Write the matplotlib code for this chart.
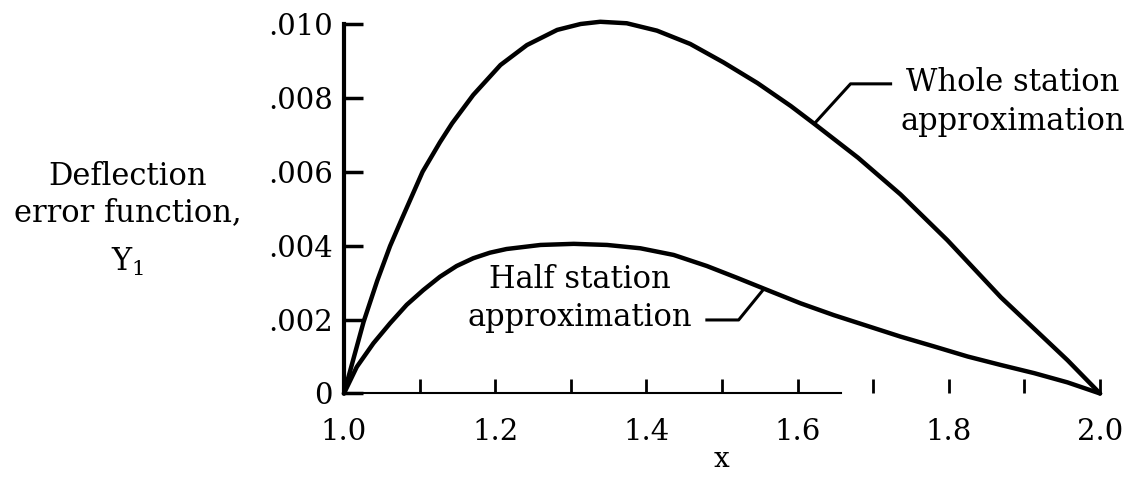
import matplotlib.pyplot as plt

plt.rcParams['font.family'] = ['DejaVu Serif']
plt.rcParams['mathtext.fontset'] = 'dejavuserif'

# whole station approximation (x, Y1 in units of 1e-3)
whole_x = [1.000, 1.026, 1.044, 1.061, 1.076, 1.104, 1.127, 1.143, 1.171,
           1.207, 1.242, 1.282, 1.313, 1.339, 1.374, 1.414, 1.458, 1.502,
           1.547, 1.591, 1.622, 1.680, 1.736, 1.798, 1.869, 1.957, 2.000]
whole_y = [0, 1.94, 3.05, 3.99, 4.70, 6.00, 6.80, 7.31, 8.08,
           8.89, 9.43, 9.84, 10.00, 10.06, 10.02, 9.82, 9.46, 8.96,
           8.40, 7.78, 7.30, 6.38, 5.39, 4.15, 2.60, 0.90, 0]

# half station approximation
half_x = [1.000, 1.017, 1.039, 1.061, 1.083, 1.105, 1.127, 1.149, 1.171,
          1.193, 1.215, 1.260, 1.304, 1.348, 1.392, 1.436, 1.480, 1.520,
          1.560, 1.604, 1.648, 1.692, 1.736, 1.781, 1.825, 1.869, 1.913,
          1.957, 2.000]
half_y = [0, 0.72, 1.36, 1.90, 2.40, 2.80, 3.16, 3.45, 3.66,
          3.81, 3.91, 4.02, 4.05, 4.02, 3.93, 3.75, 3.45, 3.13,
          2.80, 2.44, 2.12, 1.83, 1.54, 1.27, 1.00, 0.77, 0.55,
          0.30, 0]

x_ticks = [1.0, 1.1, 1.2, 1.3, 1.4, 1.5, 1.6, 1.7, 1.8, 1.9, 2.0]
x_labels = ['1.0', '', '1.2', '', '1.4', '', '1.6', '', '1.8', '', '2.0']
y_ticks = [0, 0.002, 0.004, 0.006, 0.008, 0.010]
y_labels = ['0', '.002', '.004', '.006', '.008', '.010']

fig = plt.figure(figsize=(11.37, 4.78), dpi=100)
ax = fig.add_axes([0.3025, 0.1768, 0.665, 0.773])

ax.plot(whole_x, [v * 1e-3 for v in whole_y], color='black', lw=3.2,
        solid_capstyle='round', solid_joinstyle='round', clip_on=False)
ax.plot(half_x, [v * 1e-3 for v in half_y], color='black', lw=3.2,
        solid_capstyle='round', solid_joinstyle='round', clip_on=False)

ax.set_xlim(1.0, 2.0)
ax.set_ylim(0, 0.010)
ax.spines['top'].set_visible(False)
ax.spines['right'].set_visible(False)
ax.spines['left'].set_linewidth(3)
ax.spines['bottom'].set_linewidth(1.5)
ax.spines['bottom'].set_bounds(1.0, 1.658)

ax.set_xticks(x_ticks)
ax.set_xticklabels(x_labels)
ax.set_yticks(y_ticks)
ax.set_yticklabels(y_labels)
ax.tick_params(axis='x', direction='in', length=10, width=2, pad=18,
               labelsize=21)
ax.tick_params(axis='y', direction='in', length=14, width=2.5, pad=8,
               labelsize=21)
ax.set_xlabel('x', fontsize=20, labelpad=0)

# leader lines and curve labels
ax.plot([1.622, 1.670, 1.723], [0.00730, 0.00838, 0.00838], color='black',
        lw=2.2)
ax.text(1.885, 0.00789, 'Whole station\napproximation', ha='center',
        va='center', fontsize=22, linespacing=1.3)
ax.plot([1.555, 1.522, 1.480], [0.00282, 0.00199, 0.00199], color='black',
        lw=2.2)
ax.text(1.3126, 0.00256, 'Half station\napproximation', ha='center',
        va='center', fontsize=22, linespacing=1.3)

fig.text(0.1126, 0.593, 'Deflection\nerror function,', ha='center',
         va='center', fontsize=22, linespacing=1.2)
fig.text(0.1126, 0.452, 'Y$_1$', ha='center', va='center', fontsize=22)

fig.savefig('out.png', dpi=100)
